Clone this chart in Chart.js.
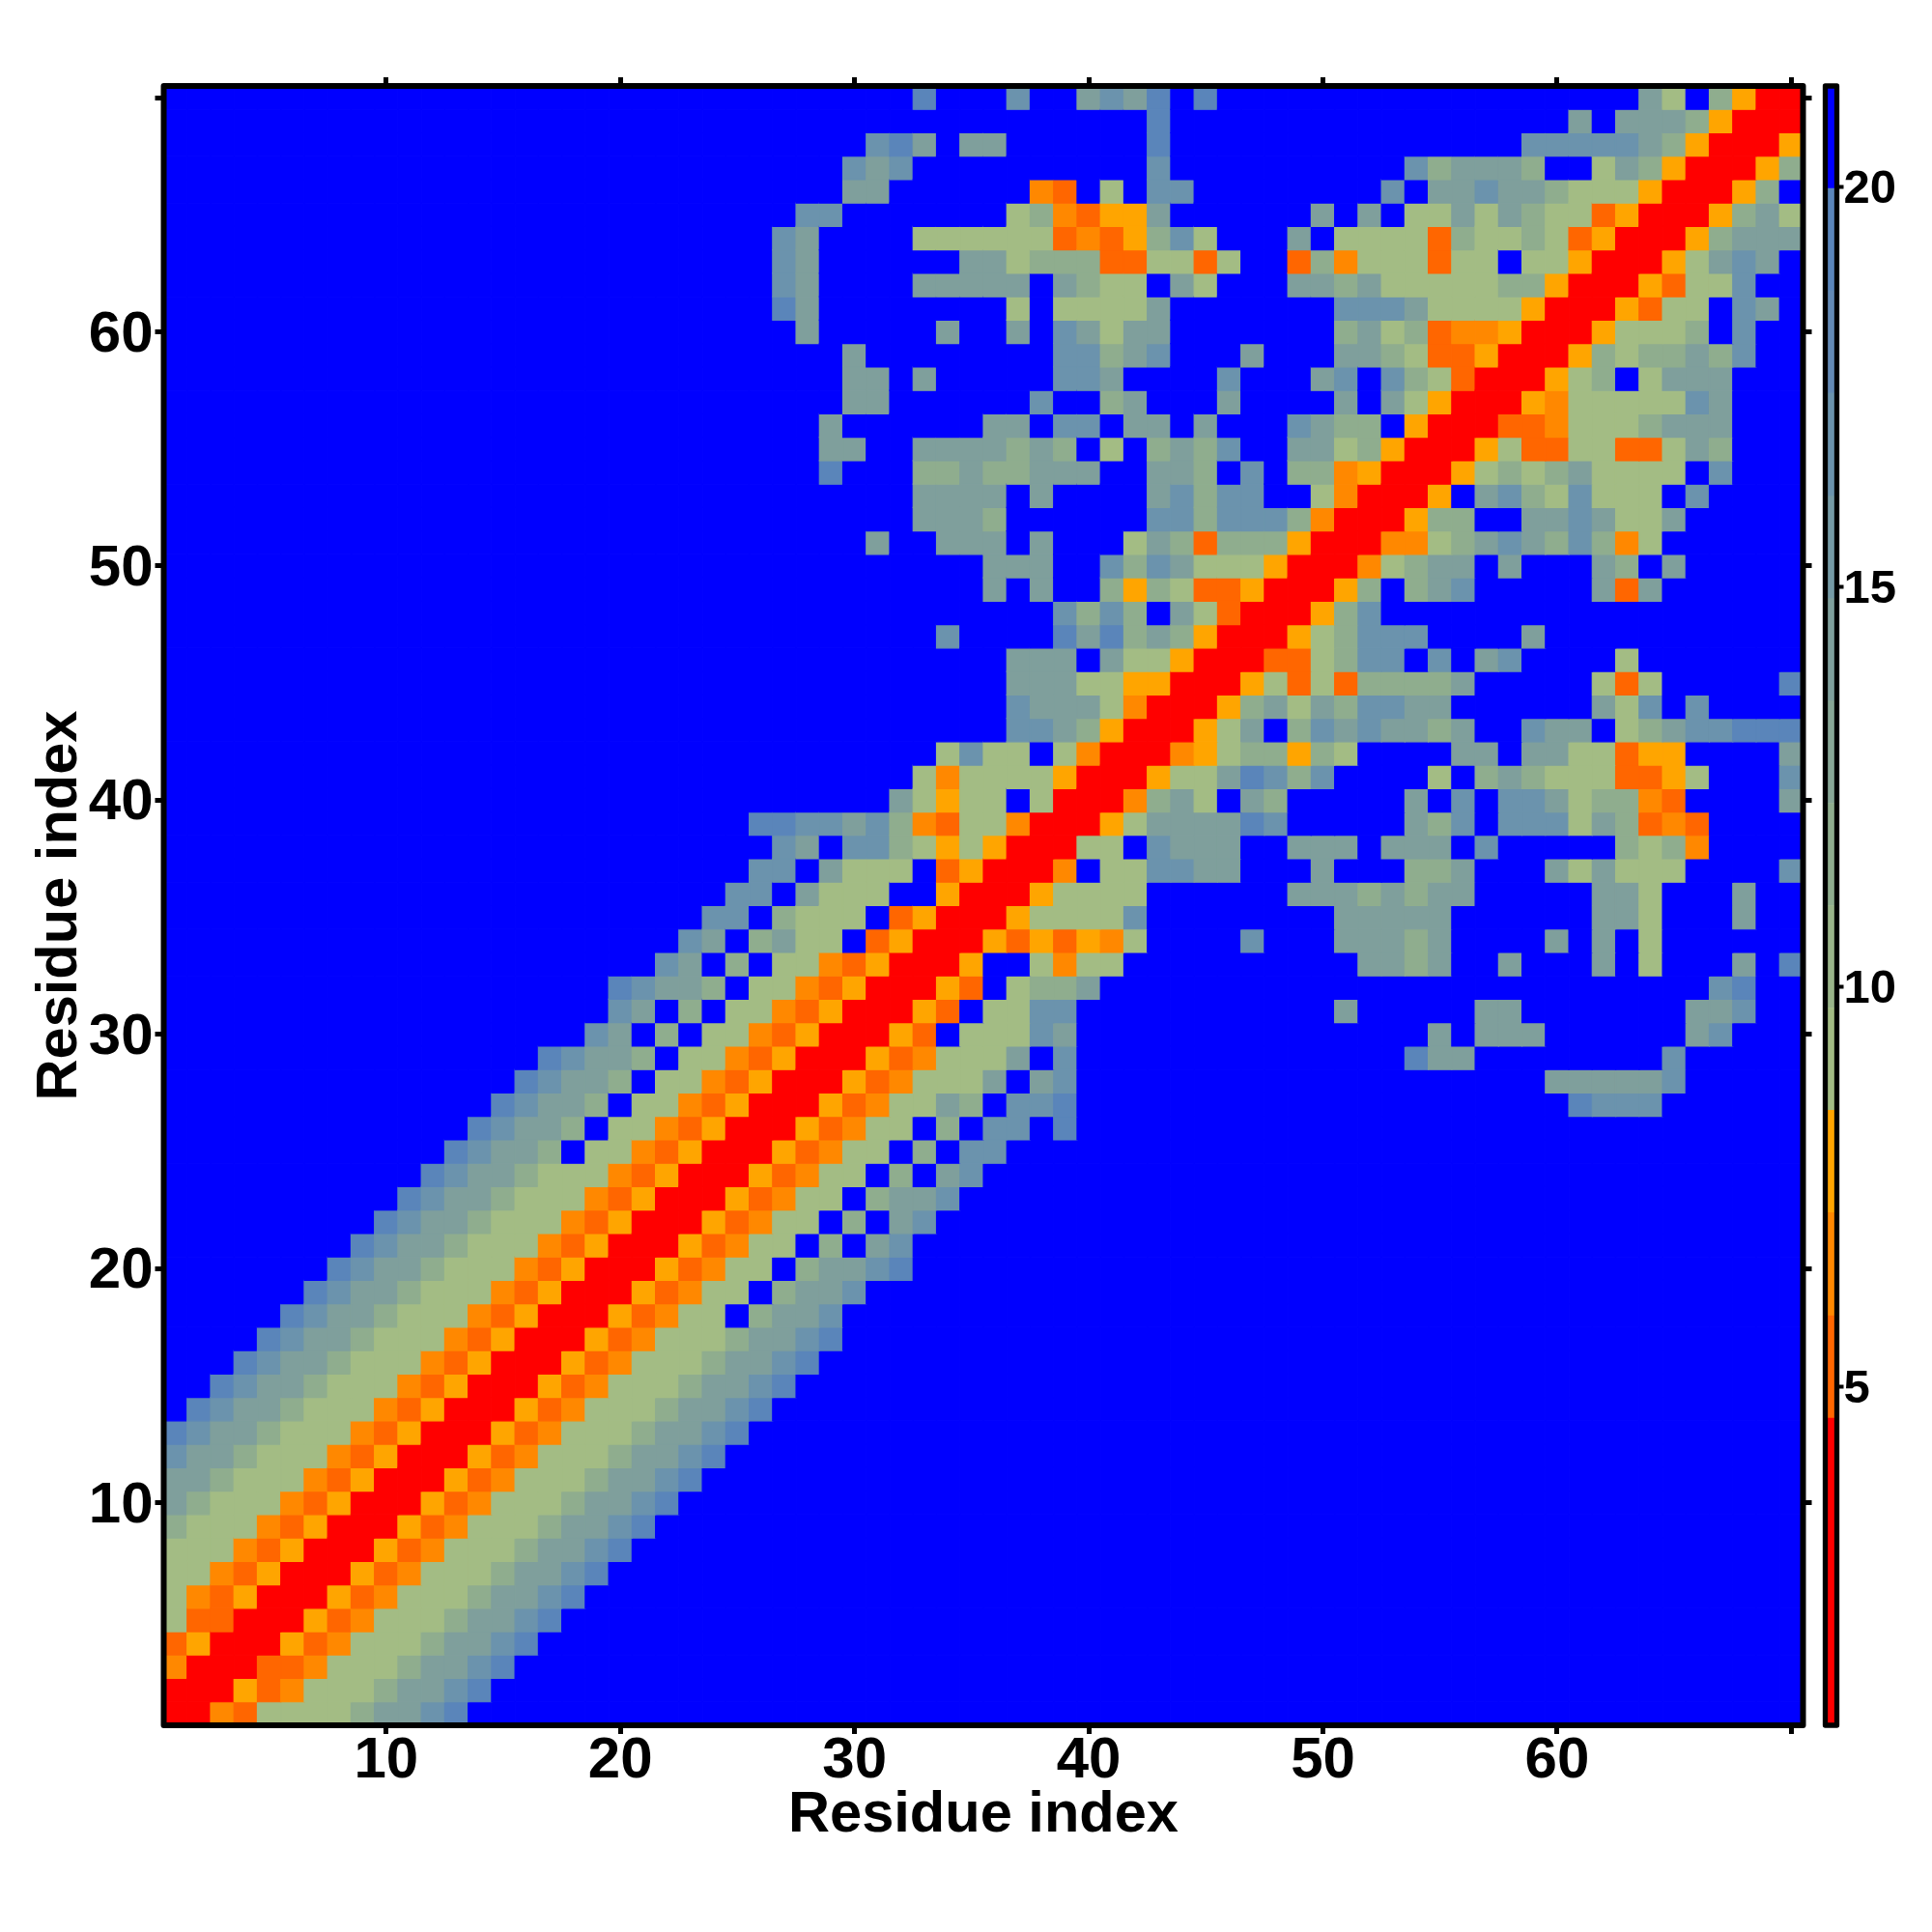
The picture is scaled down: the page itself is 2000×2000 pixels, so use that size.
<!DOCTYPE html>
<html>
<head>
<meta charset="utf-8">
<style>
html,body{margin:0;padding:0;background:#fff}
canvas{position:absolute;left:0;top:0}
</style>
<script src="https://cdn.jsdelivr.net/npm/chart.js@4/dist/chart.umd.js"></script>
</head>
<body>
<canvas id="map" width="2000" height="2000"></canvas>
<canvas id="bar" width="2000" height="2000"></canvas>
<script>
// Distance classes. rowsFromDiagonal[n] is residue y = n + 1,
// listing x = y, y + 1, ... ; the map is symmetric about the diagonal.
// _n_ stands for n cells of class 9 (blue); a row ends at its last non-blue cell.
const rowsFromDiagonal = [
"0021444456678","0031244456678","0011244456678","0031244456678","0031244456678",
"0031244456678","0031244456678","0031244456678","0031244456678","0031244456678",
"0031244456678","0031244456678","0031244456678","0031244456678","0031244456678",
"0031244456678","0031244456678","003124495667","003124495667","0031244956678",
"003124495967","003124495967","003124495667","003124495967","003124495977",
"00312449597798",
"0031244659778_21_8777",
"003124446967_20_666667",
"00312444697_14_866_8_7",
"0031944476_15_69666_6_67",
"003194477_11_6_5_66_7_667",
"003194556_26_78",
"003994244_10_6656_2_6_3_694_3_698",
"003131324_4_7_3_66656_4_69694",
"00344447_8_66666_6_664_3_6",
"0034444_6_66656566_5_664_3_6",
"0029447766_3_6_3_556_3_646444_4_7",
"004497666_2_666966697_5_5452",
"0034666687_5_6579777465121",
"002564965_5_697977645521_4_6",
"0034468757_4_495654441134_3_7",
"0023455354_4_6696644133_4_6",
"0034695767665699766945677888",
"003564657766_6_64797",
"003414155556_5_414_5_8",
"0011457797967_4_4",
"00345777_4_6",
"00357",
"00359567_5_616",
"002456696_3_6596",
"00224567657524",
"00355996676446",
"00396754744497",
"00345456444497",
"0034114411465",
"001124445666",
"00324444476",
"0034594666",
"0035455657",
"003444597",
"003144976",
"0031447",
"0034676",
"0035666",
"003564",
"00359",
"0035",
"003",
"00",
"0"
];
const classDistance = [2.0, 5.2, 6.5, 7.8, 9.1, 11.6, 14.2, 16.8, 19.3, 20.6];
const residueCount = 70;
const axisTicks = [10, 20, 30, 40, 50, 60, 70];
const labelledTicks = [10, 20, 30, 40, 50, 60];
const colorbarEdges = [0.76, 2.04, 3.32, 4.60, 5.88, 7.17, 8.45, 9.73, 11.01, 12.29, 13.57, 14.85, 16.13, 17.42, 18.70, 19.98, 21.26];
const colorbarColors = ["#ff0000","#ff0000","#ff0000","#ff6600","#ff8800","#ffa500",
  "#a3bc84","#99b489","#8fad8e","#87a695","#7f9f9c","#759aa5","#6b93ad","#6389b4","#5a85ba","#0000ff"];
const colorbarTicks = [5, 10, 15, 20];

const expanded = rowsFromDiagonal.map((r, i) =>
  r.replace(/_(\d+)_/g, (m, n) => '9'.repeat(+n)).padEnd(residueCount - i, '9'));
const cells = [];
expanded.forEach((r, i) => {
  for (let k = 0; k < r.length; k++) {
    const v = classDistance[+r[k]];
    cells.push({x: i + 1 + k, y: i + 1, v});
    if (k > 0) cells.push({x: i + 1, y: i + 1 + k, v});
  }
});
function colorOf(v) {
  for (let i = 0; i < colorbarColors.length; i++) {
    if (v < colorbarEdges[i + 1]) return colorbarColors[i];
  }
  return colorbarColors[colorbarColors.length - 1];
}

const FONT = 'Liberation Sans';
const frame = width => ({
  id: 'frame',
  afterDraw(chart) {
    const a = chart.chartArea, c = chart.ctx;
    c.save();
    c.strokeStyle = '#000';
    c.lineWidth = width;
    c.lineJoin = 'round';
    c.strokeRect(a.left, a.top, a.right - a.left, a.bottom - a.top);
    c.restore();
  }
});
const fixedTicks = () => s => { s.ticks = axisTicks.map(v => ({value: v})); };
const tickGrid = {display: true, drawOnChartArea: false, drawTicks: true, tickLength: 9, tickWidth: 5, tickColor: '#000'};
const sideAxis = (position, axis, size) => ({
  type: 'linear', position, axis, min: 0.5, max: residueCount + 0.5,
  border: {display: false}, grid: tickGrid,
  ticks: {display: false, autoSkip: false},
  afterBuildTicks: fixedTicks(),
  afterFit: s => { if (axis === 'x') s.height = size; else s.width = size; }
});
const mainAxis = (position, axis, size, titlePad, tickPad, labelShift) => ({
  type: 'linear', position, axis, min: 0.5, max: residueCount + 0.5,
  border: {display: false}, grid: tickGrid,
  afterBuildTicks: fixedTicks(),
  afterFit: s => { if (axis === 'x') s.height = size; else s.width = size; },
  ticks: {
    autoSkip: false, maxRotation: 0, minRotation: 0, padding: tickPad, labelOffset: labelShift, color: '#000',
    font: {family: FONT, weight: 'bold', size: 60, lineHeight: 1},
    callback: v => labelledTicks.includes(v) ? String(v) : ''
  },
  title: {display: true, text: 'Residue index', color: '#000', padding: titlePad,
    font: {family: FONT, weight: 'bold', size: 59.6, lineHeight: 1}}
});

new Chart(document.getElementById('map'), {
  type: 'scatter',
  data: {datasets: [{
    data: cells,
    showLine: false,
    pointStyle: 'rect',
    radius: ctx => ctx.chart.scales.x.width / residueCount * Math.SQRT1_2,
    pointBackgroundColor: ctx => colorOf(ctx.raw.v),
    pointBorderColor: ctx => colorOf(ctx.raw.v),
    pointBorderWidth: 1.2
  }]},
  options: {
    responsive: false, animation: false, events: [], devicePixelRatio: 1,
    layout: {padding: 0},
    plugins: {legend: {display: false}, tooltip: {enabled: false}},
    scales: {
      x: mainAxis('bottom', 'x', 214, {top: 0, bottom: 90.5}, -2, 0),
      y: mainAxis('left', 'y', 169.5, {top: 32.5, bottom: 0}, 2, 3.5),
      x2: sideAxis('top', 'x', 89),
      y2: sideAxis('right', 'y', 133.5)
    }
  },
  plugins: [frame(6)]
});

new Chart(document.getElementById('bar'), {
  type: 'bar',
  data: {
    labels: ['distance'],
    datasets: colorbarColors.map((c, i) => ({
      data: [[colorbarEdges[i], colorbarEdges[i + 1]]],
      backgroundColor: c, borderWidth: 0,
      barPercentage: 1, categoryPercentage: 1, grouped: false
    }))
  },
  options: {
    responsive: false, animation: false, events: [], devicePixelRatio: 1,
    layout: {padding: {left: 1889.5}},
    plugins: {legend: {display: false}, tooltip: {enabled: false}},
    scales: {
      x: {display: true, position: 'bottom', border: {display: false}, grid: {display: false},
        ticks: {display: false}, afterFit: s => { s.height = 214; }},
      x2: {type: 'category', labels: ['distance'], position: 'top', axis: 'x', border: {display: false}, grid: {display: false},
        ticks: {display: false}, afterFit: s => { s.height = 89; }},
      y: {
        type: 'linear', position: 'right',
        min: colorbarEdges[0], max: colorbarEdges[colorbarEdges.length - 1],
        border: {display: false},
        grid: {display: true, drawOnChartArea: false, drawTicks: true, tickLength: 7, tickWidth: 4, tickColor: '#000'},
        afterBuildTicks: s => { s.ticks = colorbarTicks.map(v => ({value: v})); },
        afterFit: s => { s.width = 98.5; },
        ticks: {autoSkip: false, padding: 0, labelOffset: 3.5, color: '#000', maxRotation: 0,
          font: {family: FONT, weight: 'bold', size: 49, lineHeight: 1},
          callback: v => String(v)}
      }
    }
  },
  plugins: [frame(5.3)]
});
</script>
</body>
</html>
